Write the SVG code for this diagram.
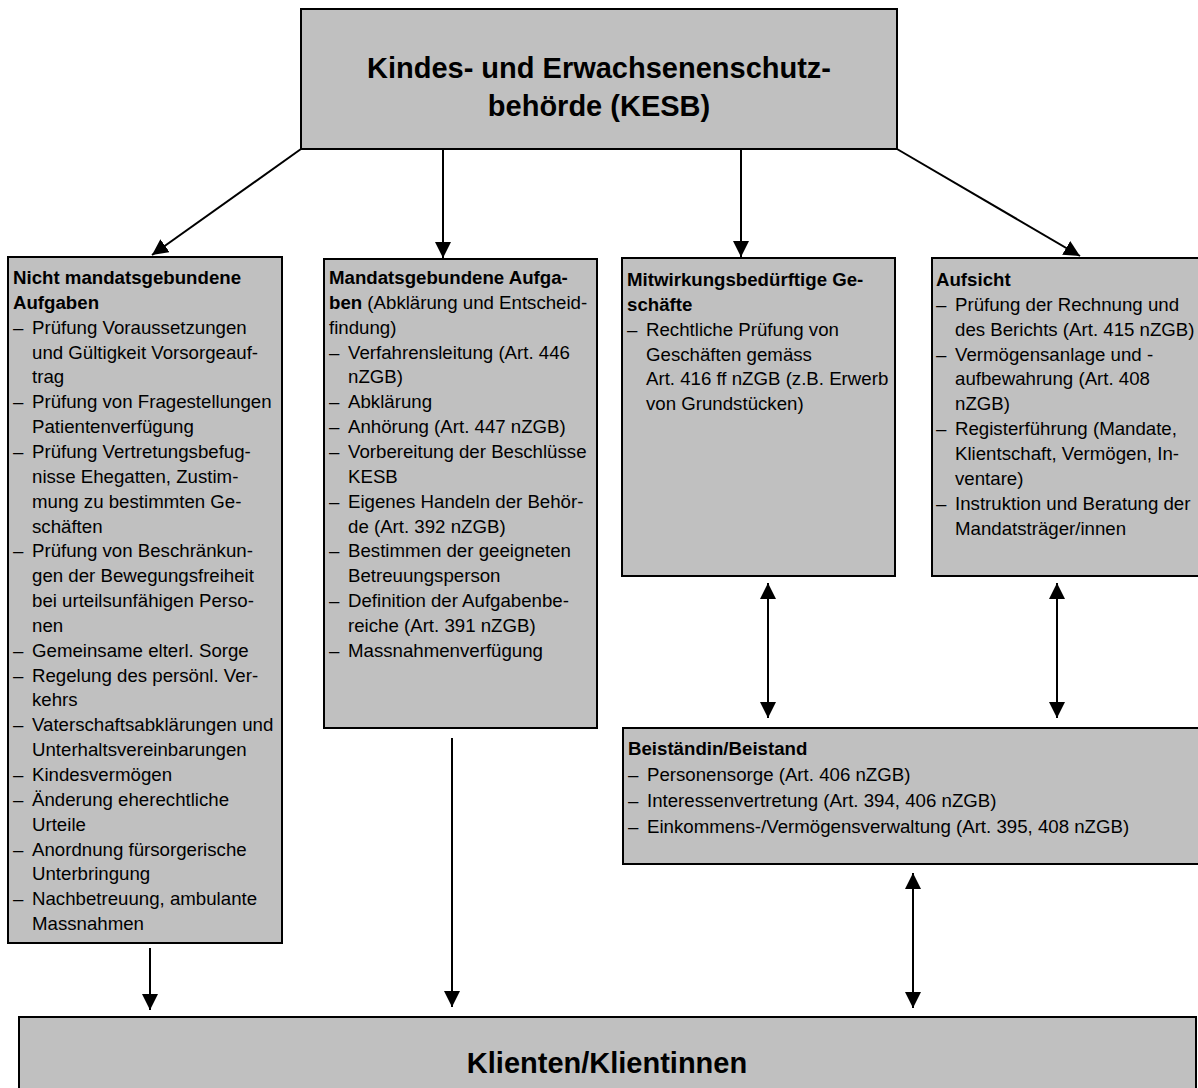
<svg xmlns="http://www.w3.org/2000/svg" width="1198" height="1088" viewBox="0 0 1198 1088">
<style>
.box{fill:#c0c0c0;stroke:#000;stroke-width:2}
.t{font-family:"Liberation Sans",Arial,sans-serif;font-size:18.67px;fill:#000}
.b{font-weight:bold}
.h{font-family:"Liberation Sans",Arial,sans-serif;font-size:29px;font-weight:bold;fill:#000;text-anchor:middle}
.c{stroke:#000;stroke-width:2;fill:none}
</style>
<defs>
<marker id="ah" markerUnits="userSpaceOnUse" markerWidth="16" markerHeight="16" refX="15" refY="7.5" orient="auto-start-reverse" viewBox="0 0 15 15">
<path d="M0,0 L15,7.5 L0,15 z" fill="#000"/>
</marker>
</defs>
<rect width="1198" height="1088" fill="#fff"/>

<g id="connectors">
<line class="c" x1="301" y1="149" x2="152" y2="255" marker-end="url(#ah)"/>
<line class="c" x1="443" y1="149" x2="443" y2="258" marker-end="url(#ah)"/>
<line class="c" x1="741" y1="149" x2="741" y2="257" marker-end="url(#ah)"/>
<line class="c" x1="897" y1="149" x2="1080" y2="256" marker-end="url(#ah)"/>
<line class="c" x1="768" y1="583" x2="768" y2="718" marker-start="url(#ah)" marker-end="url(#ah)"/>
<line class="c" x1="1057" y1="583" x2="1057" y2="718" marker-start="url(#ah)" marker-end="url(#ah)"/>
<line class="c" x1="913" y1="873" x2="913" y2="1008" marker-start="url(#ah)" marker-end="url(#ah)"/>
<line class="c" x1="150" y1="948" x2="150" y2="1010" marker-end="url(#ah)"/>
<line class="c" x1="452" y1="738" x2="452" y2="1007" marker-end="url(#ah)"/>
</g>

<g id="kesb">
<rect class="box" x="301" y="9" width="596" height="140"/>
<text class="h" x="599" y="78">Kindes- und Erwachsenenschutz-</text>
<text class="h" x="599" y="116">behörde (KESB)</text>
</g>

<g id="nicht-mandatsgebunden">
<rect class="box" x="8" y="257" width="274" height="686"/>
<text class="t">
<tspan class="b" x="13" y="284">Nicht mandatsgebundene</tspan>
<tspan class="b" x="13" dy="24.85">Aufgaben</tspan>
<tspan x="13" dy="24.85">–</tspan><tspan x="32">Prüfung Voraussetzungen</tspan>
<tspan x="32" dy="24.85">und Gültigkeit Vorsorgeauf-</tspan>
<tspan x="32" dy="24.85">trag</tspan>
<tspan x="13" dy="24.85">–</tspan><tspan x="32">Prüfung von Fragestellungen</tspan>
<tspan x="32" dy="24.85">Patientenverfügung</tspan>
<tspan x="13" dy="24.85">–</tspan><tspan x="32">Prüfung Vertretungsbefug-</tspan>
<tspan x="32" dy="24.85">nisse Ehegatten, Zustim-</tspan>
<tspan x="32" dy="24.85">mung zu bestimmten Ge-</tspan>
<tspan x="32" dy="24.85">schäften</tspan>
<tspan x="13" dy="24.85">–</tspan><tspan x="32">Prüfung von Beschränkun-</tspan>
<tspan x="32" dy="24.85">gen der Bewegungsfreiheit</tspan>
<tspan x="32" dy="24.85">bei urteilsunfähigen Perso-</tspan>
<tspan x="32" dy="24.85">nen</tspan>
<tspan x="13" dy="24.85">–</tspan><tspan x="32">Gemeinsame elterl. Sorge</tspan>
<tspan x="13" dy="24.85">–</tspan><tspan x="32">Regelung des persönl. Ver-</tspan>
<tspan x="32" dy="24.85">kehrs</tspan>
<tspan x="13" dy="24.85">–</tspan><tspan x="32">Vaterschaftsabklärungen und</tspan>
<tspan x="32" dy="24.85">Unterhaltsvereinbarungen</tspan>
<tspan x="13" dy="24.85">–</tspan><tspan x="32">Kindesvermögen</tspan>
<tspan x="13" dy="24.85">–</tspan><tspan x="32">Änderung eherechtliche</tspan>
<tspan x="32" dy="24.85">Urteile</tspan>
<tspan x="13" dy="24.85">–</tspan><tspan x="32">Anordnung fürsorgerische</tspan>
<tspan x="32" dy="24.85">Unterbringung</tspan>
<tspan x="13" dy="24.85">–</tspan><tspan x="32">Nachbetreuung, ambulante</tspan>
<tspan x="32" dy="24.85">Massnahmen</tspan>
</text>
</g>

<g id="mandatsgebunden">
<rect class="box" x="324" y="259" width="273" height="469"/>
<text class="t">
<tspan class="b" x="329" y="284">Mandatsgebundene Aufga-</tspan>
<tspan class="b" x="329" dy="24.85">ben</tspan><tspan> (Abklärung und Entscheid-</tspan>
<tspan x="329" dy="24.85">findung)</tspan>
<tspan x="329" dy="24.85">–</tspan><tspan x="348">Verfahrensleitung (Art. 446</tspan>
<tspan x="348" dy="24.85">nZGB)</tspan>
<tspan x="329" dy="24.85">–</tspan><tspan x="348">Abklärung</tspan>
<tspan x="329" dy="24.85">–</tspan><tspan x="348">Anhörung (Art. 447 nZGB)</tspan>
<tspan x="329" dy="24.85">–</tspan><tspan x="348">Vorbereitung der Beschlüsse</tspan>
<tspan x="348" dy="24.85">KESB</tspan>
<tspan x="329" dy="24.85">–</tspan><tspan x="348">Eigenes Handeln der Behör-</tspan>
<tspan x="348" dy="24.85">de (Art. 392 nZGB)</tspan>
<tspan x="329" dy="24.85">–</tspan><tspan x="348">Bestimmen der geeigneten</tspan>
<tspan x="348" dy="24.85">Betreuungsperson</tspan>
<tspan x="329" dy="24.85">–</tspan><tspan x="348">Definition der Aufgabenbe-</tspan>
<tspan x="348" dy="24.85">reiche (Art. 391 nZGB)</tspan>
<tspan x="329" dy="24.85">–</tspan><tspan x="348">Massnahmenverfügung</tspan>
</text>
</g>

<g id="mitwirkung">
<rect class="box" x="622" y="258" width="273" height="318"/>
<text class="t">
<tspan class="b" x="627" y="286">Mitwirkungsbedürftige Ge-</tspan>
<tspan class="b" x="627" dy="24.85">schäfte</tspan>
<tspan x="627" dy="24.85">–</tspan><tspan x="646">Rechtliche Prüfung von</tspan>
<tspan x="646" dy="24.85">Geschäften gemäss</tspan>
<tspan x="646" dy="24.85">Art. 416 ff nZGB (z.B. Erwerb</tspan>
<tspan x="646" dy="24.85">von Grundstücken)</tspan>
</text>
</g>

<g id="aufsicht">
<rect class="box" x="932" y="258" width="270" height="318"/>
<text class="t">
<tspan class="b" x="936" y="286">Aufsicht</tspan>
<tspan x="936" dy="24.85">–</tspan><tspan x="955">Prüfung der Rechnung und</tspan>
<tspan x="955" dy="24.85">des Berichts (Art. 415 nZGB)</tspan>
<tspan x="936" dy="24.85">–</tspan><tspan x="955">Vermögensanlage und -</tspan>
<tspan x="955" dy="24.85">aufbewahrung (Art. 408</tspan>
<tspan x="955" dy="24.85">nZGB)</tspan>
<tspan x="936" dy="24.85">–</tspan><tspan x="955">Registerführung (Mandate,</tspan>
<tspan x="955" dy="24.85">Klientschaft, Vermögen, In-</tspan>
<tspan x="955" dy="24.85">ventare)</tspan>
<tspan x="936" dy="24.85">–</tspan><tspan x="955">Instruktion und Beratung der</tspan>
<tspan x="955" dy="24.85">Mandatsträger/innen</tspan>
</text>
</g>

<g id="beistand">
<rect class="box" x="623" y="728" width="580" height="136"/>
<text class="t">
<tspan class="b" x="628" y="755">Beiständin/Beistand</tspan>
<tspan x="628" dy="26">–</tspan><tspan x="647">Personensorge (Art. 406 nZGB)</tspan>
<tspan x="628" dy="26">–</tspan><tspan x="647">Interessenvertretung (Art. 394, 406 nZGB)</tspan>
<tspan x="628" dy="26">–</tspan><tspan x="647">Einkommens-/Vermögensverwaltung (Art. 395, 408 nZGB)</tspan>
</text>
</g>

<g id="klienten">
<rect class="box" x="19" y="1017" width="1177" height="90"/>
<text class="h" x="607" y="1073">Klienten/Klientinnen</text>
</g>
</svg>
